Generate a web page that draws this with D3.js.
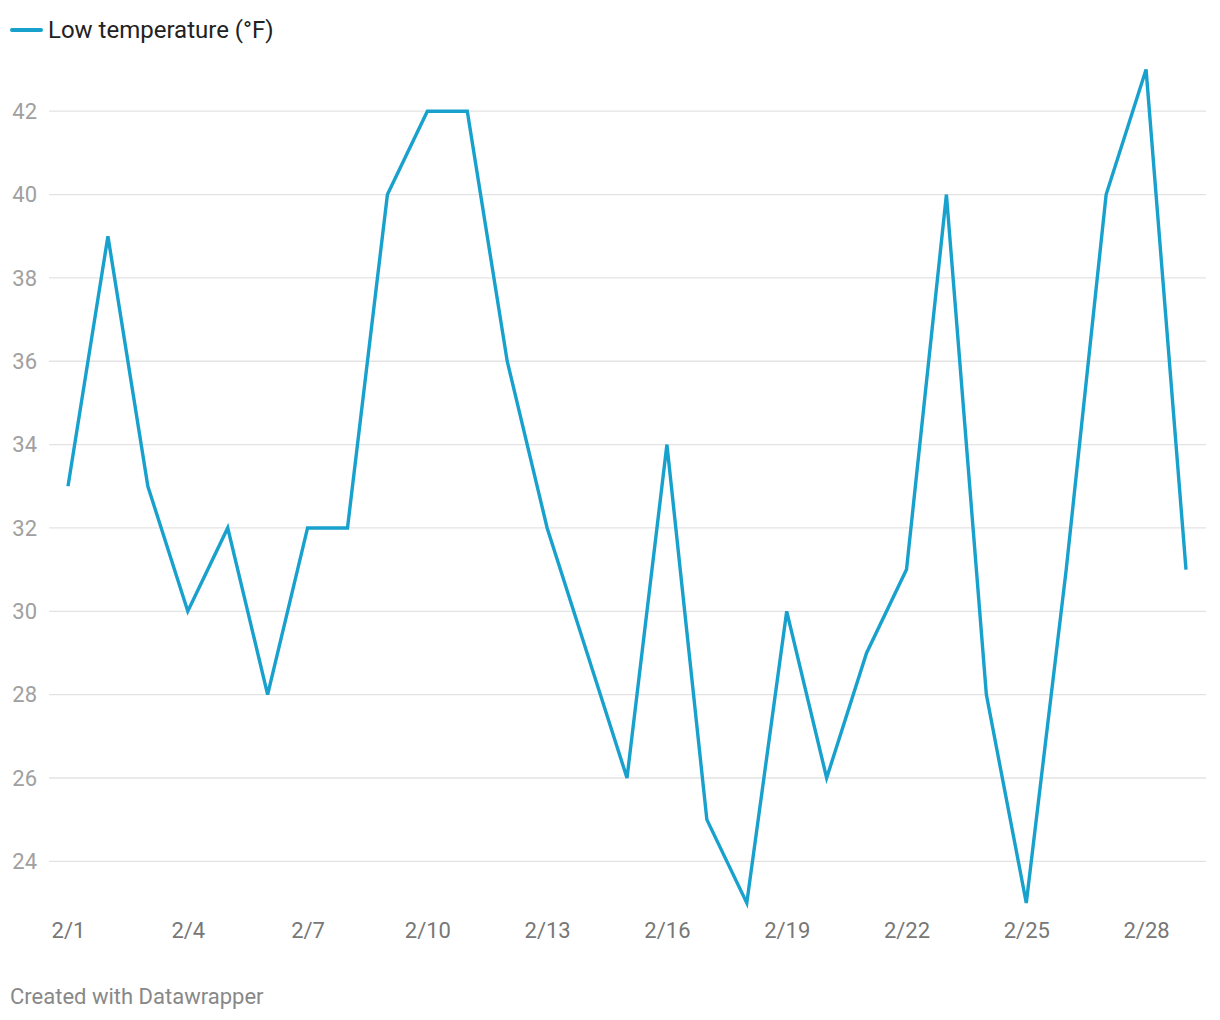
<!DOCTYPE html>
<html><head><meta charset="utf-8">
<script src="https://cdn.jsdelivr.net/npm/d3@7"></script>
<style>body{margin:0;background:#fff;font-family:Roboto,sans-serif}</style>
</head><body><svg id="c" width="1220" height="1020"></svg>
<script>
const days = ["2/1","2/2","2/3","2/4","2/5","2/6","2/7","2/8","2/9","2/10","2/11","2/12","2/13","2/14","2/15","2/16","2/17","2/18","2/19","2/20","2/21","2/22","2/23","2/24","2/25","2/26","2/27","2/28","2/29"];
const lowTemp = [33,39,33,30,32,28,32,32,40,42,42,36,32,29,26,34,25,23,30,26,29,31,40,28,23,31,40,43,31];
const yTicks = [24,26,28,30,32,34,36,38,40,42];
const xTickLabels = ["2/1","2/4","2/7","2/10","2/13","2/16","2/19","2/22","2/25","2/28"];
const seriesName = "Low temperature (°F)";
const color = "#18a1cd";

const svg = d3.select("#c");
const x = d3.scalePoint().domain(days).range([68, 1186]);
const y = d3.scaleLinear().domain([23, 43]).range([903, 69.5]);

// gridlines
svg.append("g").selectAll("line").data(yTicks).join("line")
  .attr("x1", 49).attr("x2", 1206)
  .attr("y1", d => y(d)).attr("y2", d => y(d))
  .attr("stroke", "#e3e3e3").attr("stroke-width", 1.3);

// y labels
svg.append("g").selectAll("text").data(yTicks).join("text")
  .attr("x", 37).attr("y", d => y(d)).attr("dy", "0.35em")
  .attr("text-anchor", "end").attr("font-size", 22).attr("fill", "#a0a0a0")
  .text(d => d);

// x axis
const xAxis = d3.axisBottom(x).tickValues(xTickLabels).tickSize(0).tickPadding(0);
const gx = svg.append("g").attr("transform", "translate(0,922)").call(xAxis);
gx.select(".domain").remove();
gx.selectAll("text").attr("font-size", 22).attr("fill", "#777").attr("font-family", "Roboto, sans-serif").attr("dy", "0.71em");

// line
const line = d3.line().x((d, i) => x(days[i])).y(d => y(d));
svg.append("path").datum(lowTemp).attr("d", line)
  .attr("fill", "none").attr("stroke", color).attr("stroke-width", 3.4)
  .attr("stroke-linejoin", "miter").attr("stroke-linecap", "butt");

// legend
svg.append("line").attr("x1", 12).attr("x2", 41).attr("y1", 30).attr("y2", 30)
  .attr("stroke", color).attr("stroke-width", 4).attr("stroke-linecap", "round");
svg.append("text").attr("x", 48).attr("y", 30).attr("dy", "0.35em")
  .attr("font-size", 24).attr("fill", "#222").text(seriesName);

// footer
svg.append("text").attr("x", 10).attr("y", 1004)
  .attr("font-size", 22).attr("fill", "#888").text("Created with Datawrapper");
</script></body></html>
